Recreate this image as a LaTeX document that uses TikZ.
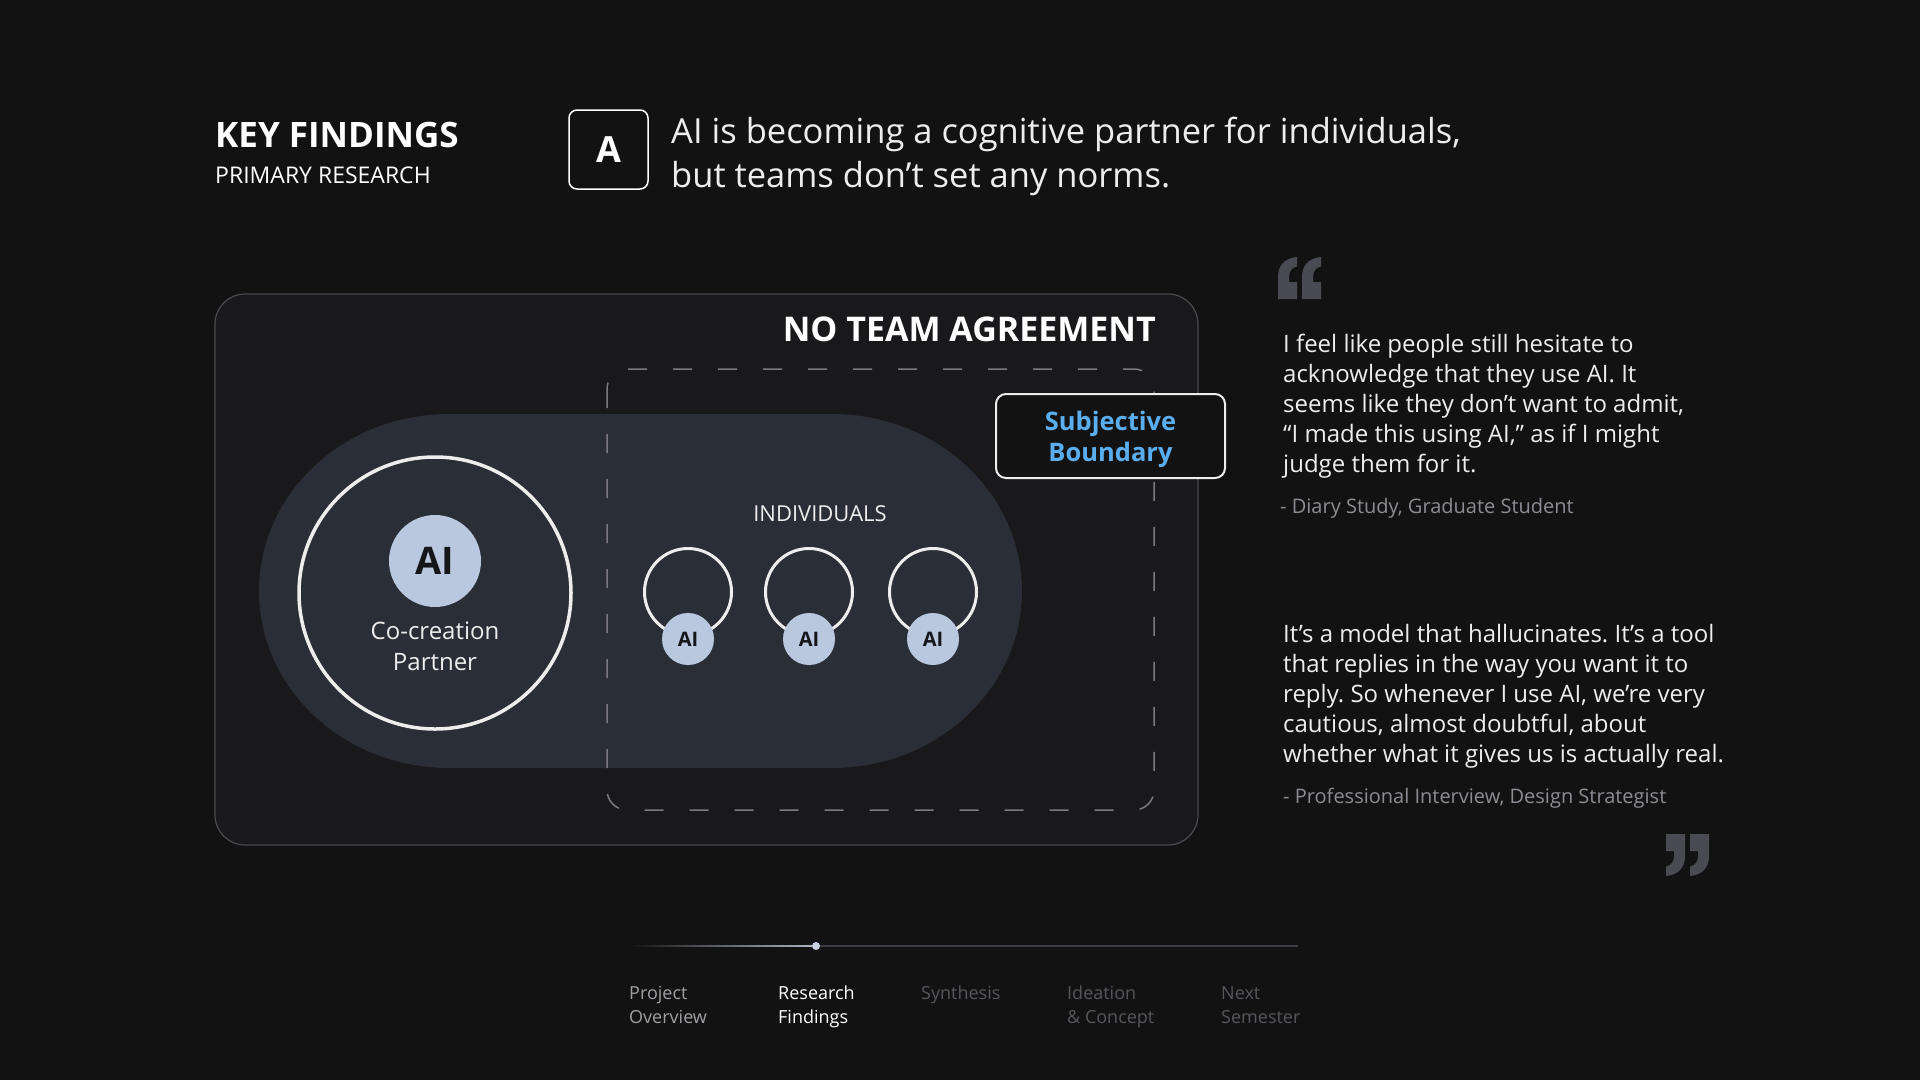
\documentclass[tikz,border=0pt]{standalone}
\usepackage{fontspec}
\setmainfont{Open Sans}
\definecolor{bg}{HTML}{131212}
\definecolor{cont}{HTML}{19181A}
\definecolor{contb}{HTML}{4A4A4F}
\definecolor{pill}{HTML}{2A2F37}
\definecolor{ring}{HTML}{EDEDED}
\definecolor{aifill}{HTML}{BAC8DF}
\definecolor{aitext}{HTML}{15161A}
\definecolor{blueT}{HTML}{5AAEEE}
\definecolor{dashc}{HTML}{7A7A80}
\definecolor{quotec}{HTML}{4A4A52}
\definecolor{txt}{HTML}{EDEDED}
\definecolor{attr}{HTML}{8C8C92}
\definecolor{dimt}{HTML}{56565C}
\definecolor{midt}{HTML}{A0A0A4}
\definecolor{barc}{HTML}{3A3D46}
\definecolor{dotc}{HTML}{C8D2E2}
\newcommand\myfs[2]{\fontsize{#1}{#2}\selectfont}
\frenchspacing
\tikzset{
  line/.style={anchor=base west, inner sep=0, text=txt},
  quoteline/.style={line, font=\myfs{24}{30}},
  attrline/.style={line, text=attr, font=\myfs{20}{26}},
  navline/.style={line, font=\myfs{18}{24}},
  ring/.style={circle, draw=ring, inner sep=0},
  aidot/.style={circle, fill=aifill, text=aitext, inner sep=0, font=\bfseries},
  qmark/.style={fill=quotec},
}
\begin{document}
\begin{tikzpicture}[x=1pt,y=-1pt]
\useasboundingbox (0,0) rectangle (1920,1080);
\fill[bg] (0,0) rectangle (1920,1080);

% header
\node[line, text=white, font=\myfs{35}{40}\bfseries] (kf) at (215,147) {KEY FINDINGS};
\node[line, text=white, font=\myfs{23}{27}] (pr) at (215,183) {PRIMARY RESEARCH};
\node[draw=white, line width=1.5, rounded corners=8, minimum width=79, minimum height=79, inner sep=0, text=white, font=\myfs{36}{40}\bfseries] (abox) at (608.5,149.5) {A};
\node[line, font=\myfs{34.5}{44}] (h1) at (671,143) {AI is becoming a cognitive partner for individuals,};
\node[line, font=\myfs{34.5}{44}] (h2) at (671,187) {but teams don’t set any norms.};

% container
\draw[fill=cont, draw=contb, line width=1.2, rounded corners=30] (215,294) rectangle (1198,845);
\node[anchor=base east, inner sep=0, text=white, font=\myfs{34}{40}\bfseries] (nta) at (1156,341) {NO TEAM AGREEMENT};

% pill
\fill[pill] (449,414) -- (832,414) arc[start angle=-90,end angle=90,x radius=190,y radius=177] -- (449,768) arc[start angle=90,end angle=270,x radius=190,y radius=177] -- cycle;

% dashed subjective boundary
\draw[dashc, line width=1.5, dash pattern=on 19pt off 26pt, rounded corners=20] (607,369) rectangle (1154,810);

% big circle
\node[ring, line width=3.5, minimum size=272] (big) at (435,593) {};
\node[aidot, minimum size=92, font=\myfs{38}{40}\bfseries] (aibig) at (435,561) {AI};
\node[anchor=base, inner sep=0, text=txt, font=\myfs{24}{30}] (cc1) at (435,639) {Co-creation};
\node[anchor=base, inner sep=0, text=txt, font=\myfs{24}{30}] (cc2) at (435,670) {Partner};

% individuals
\node[anchor=base, inner sep=0, text=txt, font=\myfs{22}{26}] (ind) at (820,521) {INDIVIDUALS};
\foreach \i/\x in {1/688,2/809,3/933}{
  \node[ring, line width=3, minimum size=87] (r\i) at (\x,592) {};
  \node[aidot, minimum size=52, font=\myfs{20}{22}\bfseries] (ai\i) at (\x,639) {AI};
}

% subjective boundary label
\node[draw=ring, fill=bg, line width=2, rounded corners=10, minimum width=229, minimum height=84, inner sep=0] (sb) at (1110.5,436) {};
\node[inner sep=0, text=blueT, align=center, font=\myfs{25.5}{31}\bfseries] (sbt) at (1110.5,439) {Subjective\\Boundary};

% quote marks (drawn shapes)
\foreach \dx in {0,24}{
  \fill[qmark, shift={(1278+\dx,257)}] (0,42) -- (19,42) -- (19,25) -- (11,25) -- (11,20) .. controls (11,14) and (14,10.5) .. (19,9.5) -- (19,0) .. controls (7,1) and (0,8) .. (0,20) -- cycle;
  \fill[qmark, shift={(1662+\dx+4,834)}] (19,0) -- (0,0) -- (0,17) -- (8,17) -- (8,22) .. controls (8,28) and (5,31.5) .. (0,32.5) -- (0,42) .. controls (12,41) and (19,34) .. (19,22) -- cycle;
}

\node[quoteline] (q11) at (1283,352) {I feel like people still hesitate to};
\node[quoteline] (q12) at (1283,382) {acknowledge that they use AI. It};
\node[quoteline] (q13) at (1283,412) {seems like they don’t want to admit,};
\node[quoteline] (q14) at (1283,442) {“I made this using AI,” as if I might};
\node[quoteline] (q15) at (1283,472) {judge them for it.};
\node[attrline] (a1) at (1280,513) {- Diary Study, Graduate Student};

\node[quoteline] (q21) at (1283,642) {It’s a model that hallucinates. It’s a tool};
\node[quoteline] (q22) at (1283,672) {that replies in the way you want it to};
\node[quoteline] (q23) at (1283,702) {reply. So whenever I use AI, we’re very};
\node[quoteline] (q24) at (1283,732) {cautious, almost doubtful, about};
\node[quoteline] (q25) at (1283,762) {whether what it gives us is actually real.};
\node[attrline] (a2) at (1283,803) {- Professional Interview, Design Strategist};

% progress bar
\coordinate (pbs) at (629,946);
\coordinate (pbe) at (1298,946);
\node[circle, fill=dotc, minimum size=8, inner sep=0] (dot) at (816,946) {};
\draw[barc, line width=1.5] (dot) -- (pbe);
\shade[left color=bg, right color=dotc!85!black] (pbs) ++(0,-0.9) rectangle (812,946.9);

\node[navline, text=midt] (n1a) at (629,999) {Project};
\node[navline, text=midt] (n1b) at (629,1023) {Overview};
\node[navline, text=white] (n2a) at (778,999) {Research};
\node[navline, text=white] (n2b) at (778,1023) {Findings};
\node[navline, text=dimt] (n3a) at (921,999) {Synthesis};
\node[navline, text=dimt] (n4a) at (1067,999) {Ideation};
\node[navline, text=dimt] (n4b) at (1067,1023) {\& Concept};
\node[navline, text=dimt] (n5a) at (1221,999) {Next};
\node[navline, text=dimt] (n5b) at (1221,1023) {Semester};
\end{tikzpicture}
\end{document}
